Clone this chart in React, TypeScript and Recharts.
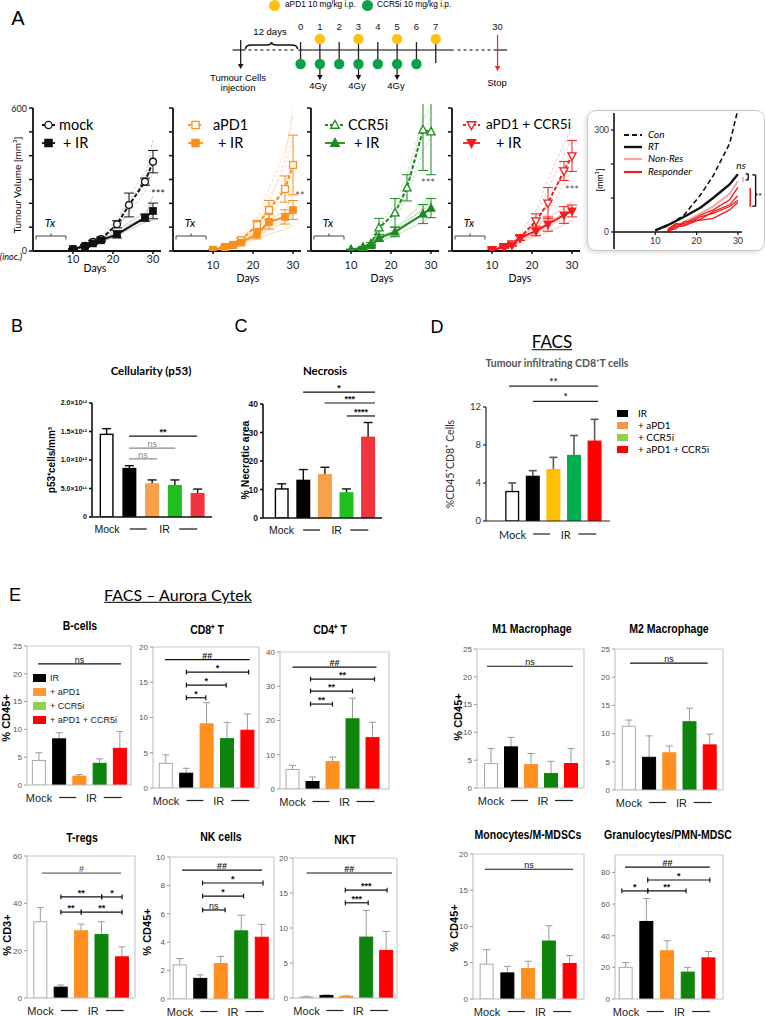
import React from 'react';
import { LineChart, Line, BarChart, Bar, XAxis, YAxis, ReferenceLine, ScatterChart, Scatter, ErrorBar } from 'recharts';

const ARIAL = '"Liberation Sans", Arial, Helvetica, sans-serif';
const CAL = 'Lato, "Open Sans", sans-serif';

// ===== Panel A: treatment schedule =====
const scheduleDays = [0, 1, 2, 3, 4, 5, 6, 7];
const aPD1Doses = [1, 3, 5, 7];
const ccr5iDoses = [0, 1, 2, 3, 4, 5, 6];
const irDoses = [1, 3, 5];
const injectionPos = -3.1;
const stopPos = 10.2;
const stopDayLabel = '30';

// ===== Panel A: tumour growth (mean ± SEM) =====
const growthDays = [10, 13, 15, 17, 21, 24, 28, 30];
const growthDaysIR = [10, 13, 15, 17, 21, 28, 30];
const mockMean = [8, 22, 39, 50, 112, 193, 291, 375];
const mockErr = [3, 5, 6, 8, 15, 50, 15, 47];
const mockIRMean = [8, 20, 32, 45, 70, 140, 168];
const mockIRErr = [3, 4, 5, 6, 15, 15, 33];
const aPD1Mean = [5, 15, 25, 45, 109, 172, 260, 361];
const aPD1Err = [2, 4, 6, 10, 20, 40, 55, 125];
const aPD1IRMean = [5, 18, 25, 35, 71, 122, 143, 172];
const aPD1IRErr = [2, 4, 5, 8, 20, 30, 30, 40];
const ccr5iMean = [5, 15, 30, 97, 160, 265, 508, 500];
const ccr5iErr = [2, 4, 6, 40, 60, 55, 170, 180];
const ccr5iIRMean = [5, 15, 22, 55, 80, 155, 180];
const ccr5iIRErr = [2, 4, 6, 15, 20, 40, 40];
const comboMean = [5, 18, 30, 55, 126, 201, 336, 399];
const comboErr = [2, 4, 6, 10, 30, 65, 40, 65];
const comboIRMean = [5, 15, 25, 55, 84, 113, 151, 168];
const comboIRErr = [2, 4, 5, 10, 20, 30, 35, 25];

// individual mice (faint traces), days = growthDays
const mockIndiv = [[8, 20, 38, 55, 120, 230, 330, 420], [6, 22, 40, 48, 100, 170, 300, 360], [10, 25, 45, 60, 135, 210, 300, 470], [7, 18, 35, 45, 95, 160, 250, 330]];
const mockIRIndiv = [[6, 18, 30, 40, 60, 100, 130, 150], [8, 22, 35, 50, 80, 120, 160, 200], [5, 15, 28, 42, 70, 110, 140, 230], [7, 20, 32, 45, 65, 90, 120, 130]];
const aPD1Indiv = [[5, 15, 30, 60, 140, 260, 420, 560], [5, 12, 25, 45, 110, 180, 280, 380], [4, 15, 22, 40, 90, 150, 230, 300], [6, 18, 28, 50, 120, 220, 350, 480], [5, 14, 26, 48, 100, 200, 380, 600]];
const aPD1IRIndiv = [[5, 15, 20, 35, 60, 90, 120, 140], [4, 12, 25, 40, 70, 110, 150, 190], [6, 18, 28, 45, 80, 130, 170, 230], [5, 10, 18, 30, 50, 70, 90, 110], [5, 14, 22, 38, 65, 100, 135, 160]];
const ccr5iIndiv = [[5, 15, 30, 100, 200, 320, 560, 600], [4, 12, 28, 80, 150, 250, 500, 560], [6, 18, 35, 120, 130, 230, 420, 480], [5, 14, 25, 90, 160, 280, 550, 590]];
const ccr5iIRIndiv = [[5, 14, 22, 50, 75, 120, 180, 230], [4, 12, 20, 45, 70, 110, 150, 175], [6, 16, 25, 60, 90, 140, 200, 240], [5, 10, 18, 40, 60, 90, 120, 140], [5, 12, 20, 48, 80, 130, 170, 210]];
const comboIndiv = [[5, 15, 30, 60, 150, 260, 400, 480], [4, 12, 25, 50, 120, 200, 330, 420], [6, 18, 35, 70, 170, 300, 450, 520], [5, 14, 28, 55, 100, 160, 280, 340]];
const comboIRIndiv = [[5, 14, 25, 50, 85, 120, 160, 200], [4, 12, 20, 45, 70, 100, 140, 170], [6, 16, 30, 60, 100, 140, 180, 210], [5, 10, 18, 40, 60, 80, 110, 130], [5, 12, 22, 50, 75, 110, 150, 185]];

// ===== Panel A inset =====
const insetDays = [10, 13, 17, 21, 24, 28, 30];
const insetCon = [5, 18, 50, 110, 165, 260, 360];
const insetRT = [5, 20, 45, 72, 100, 140, 170];
const insetRespDays = [13, 15, 17, 21, 24, 28, 30];
const insetNonRes = [8, 20, 30, 55, 75, 112, 150];
const insetResp = [[5, 20, 25, 50, 65, 95, 131], [2, 15, 18, 38, 60, 80, 107], [8, 25, 20, 45, 55, 75, 93], [3, 10, 30, 35, 40, 65, 87]];

// ===== Panel B/C/D =====
const p53Mean = [1.45, 0.85, 0.58, 0.55, 0.41]; // ×10^12 cells/mm3
const p53Err = [0.1, 0.05, 0.07, 0.1, 0.08];
const necMean = [10.2, 13.2, 15.2, 8.8, 28.3];
const necErr = [1.8, 3.8, 2.6, 1.4, 5.2];
const cd8FacsMean = [3.1, 4.7, 5.4, 6.9, 8.4];
const cd8FacsErr = [0.9, 0.6, 1.3, 2.1, 2.3];

// ===== Panel E =====
const bcellMean = [4.4, 8.3, 1.6, 3.9, 6.6];
const bcellErr = [1.4, 1.1, 0.3, 0.8, 3.0];
const cd8Mean = [3.5, 2.1, 9.1, 7.0, 8.2];
const cd8Err = [1.2, 0.7, 3.0, 2.3, 2.3];
const cd4Mean = [5.7, 2.2, 8.0, 20.5, 15.0];
const cd4Err = [1.2, 1.3, 1.3, 6.0, 4.5];
const m1Mean = [4.4, 7.4, 4.2, 2.6, 4.4];
const m1Err = [2.7, 1.7, 2.0, 2.2, 2.7];
const m2Mean = [11.3, 5.8, 6.6, 12.1, 8.0];
const m2Err = [1.1, 3.8, 1.2, 2.4, 1.9];
const tregMean = [32.2, 4.6, 28.4, 26.8, 17.4];
const tregErr = [6.0, 0.9, 2.8, 5.4, 4.2];
const nkMean = [2.4, 1.45, 2.5, 4.8, 4.35];
const nkErr = [0.45, 0.25, 0.5, 1.1, 0.9];
const nktMean = [0.15, 0.35, 0.25, 8.7, 6.8];
const nktErr = [0.1, 0.1, 0.05, 3.8, 2.7];
const monoMean = [4.8, 3.6, 4.2, 8.0, 4.9];
const monoErr = [2.0, 0.9, 1.0, 2.1, 1.1];
const granMean = [20, 49, 30.5, 17, 26];
const granErr = [3, 14.5, 6.3, 3, 4];

const E_FILLS = ['#ffffff', '#000000', '#FF8F1F', '#0E840E', '#FF0000'];
const E_STROKES = ['#aaaaaa', '#000000', '#FF8F1F', '#0E840E', '#FF0000'];
const BC_FILLS = ['#ffffff', '#000000', '#F9A04A', '#1FBF1F', '#F2343F'];
const BC_STROKES = ['#000000', '#000000', '#F9A04A', '#1FBF1F', '#F2343F'];
const D_FILLS = ['#ffffff', '#000000', '#FFC000', '#00B050', '#FF0000'];
const D_STROKES = ['#000000', '#000000', '#FFC000', '#00B050', '#FF0000'];
const D_LEGEND_COLORS = ['#000000', '#F79646', '#92D050', '#FF0000'];
const LEGEND_COLORS = ['#000000', '#FF9933', '#92D050', '#FF0000'];
const LEGEND_LABELS = ['IR', '+ aPD1', '+ CCR5i', '+ aPD1 + CCR5i'];

// ---------- helpers ----------
function pts(xs: number[], ys: number[], es?: number[]) {
  return xs.map((x, i) => ({ x, y: ys[i], e: es ? es[i] : 0 }));
}

function Txt(props: any) {
  const { x, y, children, size = 10, weight = 400, italic = false, color = '#000', family = ARIAL, anchor = 'middle', rotate = 0, underline = false, sx = 1 } = props;
  const tx = anchor === 'middle' ? '-50%' : anchor === 'end' ? '-100%' : '0';
  const origin = anchor === 'start' ? 'left center' : anchor === 'end' ? 'right center' : 'center center';
  return (
    <div style={{ position: 'absolute', left: x, top: y, transformOrigin: rotate ? 'center center' : origin, transform: `translate(${tx}, -50%)${rotate ? ` rotate(${rotate}deg)` : ''}${sx !== 1 ? ` scaleX(${sx})` : ''}`, fontSize: size, fontWeight: weight, fontStyle: italic ? 'italic' : 'normal', color, fontFamily: family, whiteSpace: 'nowrap', lineHeight: 1.15, textDecoration: underline ? 'underline' : 'none' }}>
      {children}
    </div>
  );
}

function makeDot(shape: string, open: boolean, color: string, r: number) {
  return (props: any) => {
    const { cx, cy, index } = props;
    if (cx == null || cy == null) return <g key={index} />;
    const fill = open ? '#fff' : color;
    const sw = 1.3;
    if (shape === 'circle') return <circle key={index} cx={cx} cy={cy} r={r} fill={fill} stroke={color} strokeWidth={sw} />;
    if (shape === 'square') return <rect key={index} x={cx - r} y={cy - r} width={2 * r} height={2 * r} fill={fill} stroke={color} strokeWidth={sw} />;
    if (shape === 'up') return <polygon key={index} points={`${cx},${cy - r * 1.3} ${cx - r * 1.2},${cy + r * 0.9} ${cx + r * 1.2},${cy + r * 0.9}`} fill={fill} stroke={color} strokeWidth={sw} />;
    return <polygon key={index} points={`${cx},${cy + r * 1.3} ${cx - r * 1.2},${cy - r * 0.9} ${cx + r * 1.2},${cy - r * 0.9}`} fill={fill} stroke={color} strokeWidth={sw} />;
  };
}

function LegendMark(props: any) {
  const { x, y, w, color, dashed, shape, open } = props;
  return (
    <svg style={{ position: 'absolute', left: x, top: y - 7 }} width={w} height={14}>
      <line x1={0} x2={w} y1={7} y2={7} stroke={color} strokeWidth={1.8} strokeDasharray={dashed ? '3 2' : undefined} />
      {makeDot(shape, open, color, 3.6)({ cx: w / 2, cy: 7, index: 0 })}
    </svg>
  );
}

// ---------- Schedule (panel A top) ----------
const arrowShape = (color: string, sw = 1.2) => (p: any) => {
  const { x1, y1, x2, y2 } = p;
  const ah = 5;
  const aw = 2.8;
  return (
    <g>
      <line x1={x1} y1={y1} x2={x2} y2={y2 - ah + 1} stroke={color} strokeWidth={sw} />
      <polygon points={`${x2},${y2} ${x2 - aw},${y2 - ah} ${x2 + aw},${y2 - ah}`} fill={color} />
    </g>
  );
};

const braceShape = (p: any) => {
  const { x1, y1, x2 } = p;
  const c = (x1 + x2) / 2;
  const y = y1;
  return (
    <path d={`M${x1},${y + 3} Q${x1},${y - 1} ${x1 + 6},${y - 1} L${c - 5},${y - 1} Q${c},${y - 1} ${c},${y - 4} Q${c},${y - 1} ${c + 5},${y - 1} L${x2 - 6},${y - 1} Q${x2},${y - 1} ${x2},${y + 3}`} fill="none" stroke="#111" strokeWidth={1.6} />
  );
};

function Schedule() {
  const x0 = 203.5;
  const x1 = 512.5;
  const tickData = scheduleDays.map((d) => ({ x: d, y: 50, label: String(d), long: d === 7 }));
  const stopData = [{ x: stopPos, y: 50, label: stopDayLabel }];
  const yellow = aPD1Doses.map((d) => ({ x: d, y: 39 }));
  const green = ccr5iDoses.map((d) => ({ x: d, y: 64 }));
  const tickShape = (p: any) => {
    const { cx, cy, payload } = p;
    return (
      <g>
        <line x1={cx} x2={cx} y1={cy - 8} y2={cy + (payload.long ? 13 : 9)} stroke="#222" strokeWidth={1.3} />
        <text x={cx} y={cy - 20} textAnchor="middle" fontSize={9.5} fontFamily={ARIAL} fill="#111">{payload.label}</text>
      </g>
    );
  };
  const labelOnly = (p: any) => {
    const { cx, cy, payload } = p;
    return <text x={cx} y={cy - 20} textAnchor="middle" fontSize={9.5} fontFamily={ARIAL} fill="#111">{payload.label}</text>;
  };
  const circ = (color: string) => (p: any) => <circle cx={p.cx} cy={p.cy} r={5.2} fill={color} />;
  return (
    <div style={{ position: 'absolute', left: x0, top: 0 }}>
      <ScatterChart width={x1 - x0} height={100} margin={{ top: 0, right: 0, left: 0, bottom: 0 }}>
        <XAxis type="number" dataKey="x" domain={[-5, 11]} hide allowDataOverflow />
        <YAxis type="number" dataKey="y" domain={[0, 100]} reversed hide allowDataOverflow />
        <ReferenceLine segment={[{ x: -3.52, y: 50 }, { x: -2.85, y: 50 }]} stroke="#555" strokeWidth={1.6} ifOverflow="visible" />
        <ReferenceLine segment={[{ x: -2.7, y: 50 }, { x: -0.26, y: 50 }]} stroke="#555" strokeWidth={1.6} strokeDasharray="3 3" ifOverflow="visible" />
        <ReferenceLine segment={[{ x: -0.12, y: 50 }, { x: 7.93, y: 50 }]} stroke="#555" strokeWidth={1.6} ifOverflow="visible" />
        <ReferenceLine segment={[{ x: 8.13, y: 50 }, { x: 10.0, y: 50 }]} stroke="#555" strokeWidth={1.6} strokeDasharray="3 3" ifOverflow="visible" />
        <ReferenceLine segment={[{ x: 10.0, y: 50 }, { x: 10.7, y: 50 }]} stroke="#555" strokeWidth={1.6} ifOverflow="visible" />
        <ReferenceLine segment={[{ x: -2.85, y: 46 }, { x: -0.16, y: 46 }]} shape={braceShape} ifOverflow="visible" />
        <ReferenceLine segment={[{ x: injectionPos, y: 40 }, { x: injectionPos, y: 69 }]} shape={arrowShape('#111')} ifOverflow="visible" />
        <ReferenceLine segment={[{ x: stopPos, y: 35 }, { x: stopPos, y: 71 }]} shape={arrowShape('#E8262B')} ifOverflow="visible" />
        {irDoses.map((d) => (
          <ReferenceLine key={`ir${d}`} segment={[{ x: d, y: 64 }, { x: d, y: 80 }]} shape={arrowShape('#111')} ifOverflow="visible" />
        ))}
        <Scatter data={tickData} shape={tickShape} isAnimationActive={false} />
        <Scatter data={stopData} shape={labelOnly} isAnimationActive={false} />
        <Scatter data={yellow} shape={circ('#FFC20E')} isAnimationActive={false} />
        <Scatter data={green} shape={circ('#0BA14B')} isAnimationActive={false} />
      </ScatterChart>
    </div>
  );
}

// ---------- Growth charts ----------
function GrowthChart(props: any) {
  const { ax, color, faint, openShape, filledShape, treat, ir, indivT, indivIR, showLabels, tickDy } = props;
  const x0 = ax;
  const x1 = ax + 128;
  const y0 = 108;
  const y1 = 251;
  const L = 30;
  const R = 4;
  const T = 4;
  const B = 24;
  return (
    <div style={{ position: 'absolute', left: x0 - L, top: y0 - T }}>
      <LineChart width={x1 - x0 + L + R} height={y1 - y0 + T + B} margin={{ top: T, right: R, left: 0, bottom: 0 }}>
        <XAxis type="number" dataKey="x" domain={[0, 32]} ticks={[10, 20, 30]} allowDataOverflow height={B} tickSize={3} tickMargin={1}
          axisLine={{ stroke: '#111', strokeWidth: 1.8 }} tickLine={{ stroke: '#111', strokeWidth: 1.5 }}
          tick={{ fontSize: 11, fill: '#222', fontFamily: CAL, dy: tickDy }} />
        <YAxis type="number" domain={[0, 600]} ticks={[0, 100, 200, 300, 400, 500, 600]} width={L} allowDataOverflow tickSize={4} tickMargin={2}
          axisLine={{ stroke: '#111', strokeWidth: 1.8 }} tickLine={{ stroke: '#111', strokeWidth: 1.5 }}
          tickFormatter={(v: number) => (showLabels && (v === 0 || v === 600) ? String(v) : '')}
          tick={{ fontSize: 9, fill: '#222', fontFamily: CAL }} />
        {indivT.map((arr: number[], k: number) => (
          <Line key={`t${k}`} data={pts(growthDays, arr)} dataKey="y" stroke={faint} strokeWidth={0.8} strokeDasharray="3 2" dot={false} isAnimationActive={false} />
        ))}
        {indivIR.map((arr: number[], k: number) => (
          <Line key={`i${k}`} data={pts(growthDays, arr)} dataKey="y" stroke={faint} strokeWidth={0.9} dot={false} isAnimationActive={false} />
        ))}
        <Line data={treat} dataKey="y" stroke={color} strokeWidth={2} strokeDasharray="4 2" dot={makeDot(openShape, true, color, 3.4)} isAnimationActive={false}>
          <ErrorBar dataKey="e" width={5} stroke={color} strokeWidth={1} direction="y" />
        </Line>
        <Line data={ir} dataKey="y" stroke={color} strokeWidth={2} dot={makeDot(filledShape, false, color, 3.2)} isAnimationActive={false}>
          <ErrorBar dataKey="e" width={5} stroke={color} strokeWidth={1} direction="y" />
        </Line>
        <ReferenceLine segment={[{ x: 0.75, y: 63 }, { x: 8.25, y: 63 }]} stroke="#333" strokeWidth={0.9} ifOverflow="visible" />
        <ReferenceLine segment={[{ x: 0.75, y: 63 }, { x: 0.75, y: 48 }]} stroke="#333" strokeWidth={0.9} ifOverflow="visible" />
        <ReferenceLine segment={[{ x: 8.25, y: 63 }, { x: 8.25, y: 48 }]} stroke="#333" strokeWidth={0.9} ifOverflow="visible" />
        <ReferenceLine segment={[{ x: 4.5, y: 63 }, { x: 4.5, y: 74 }]} stroke="#333" strokeWidth={0.9} ifOverflow="visible" />
      </LineChart>
    </div>
  );
}

function Inset() {
  const x0 = 614;
  const x1 = 742;
  const y0 = 113;
  const y1 = 232;
  const L = 24;
  const R = 23;
  const T = 4;
  const B = 20;
  const blk = '#111';
  return (
    <div style={{ position: 'absolute', left: x0 - L, top: y0 - T }}>
      <LineChart width={x1 - x0 + L + R} height={y1 - y0 + T + B} margin={{ top: T, right: R, left: 0, bottom: 0 }}>
        <XAxis type="number" dataKey="x" domain={[0, 31]} ticks={[10, 20, 30]} allowDataOverflow height={B} tickSize={3} tickMargin={3}
          axisLine={{ stroke: blk, strokeWidth: 1.6 }} tickLine={{ stroke: blk, strokeWidth: 1.2 }}
          tick={{ fontSize: 9, fill: '#333', fontFamily: CAL }} />
        <YAxis type="number" domain={[0, 350]} ticks={[0, 100, 200, 300]} width={L} allowDataOverflow tickSize={3} tickMargin={2}
          axisLine={{ stroke: blk, strokeWidth: 1.6 }} tickLine={{ stroke: blk, strokeWidth: 1.2 }}
          tickFormatter={(v: number) => (v === 0 || v === 300 ? String(v) : '')}
          tick={{ fontSize: 8.5, fill: '#333', fontFamily: CAL }} />
        <ReferenceLine segment={[{ x: 0, y: 0 }, { x: 0, y: -50 }]} stroke={blk} strokeWidth={1.6} ifOverflow="visible" />
        <Line data={pts(insetDays, insetCon)} dataKey="y" stroke={blk} strokeWidth={1.6} strokeDasharray="5 3" dot={false} isAnimationActive={false} />
        <Line data={pts(insetRespDays, insetNonRes)} dataKey="y" stroke="#F6A5A5" strokeWidth={2} dot={false} isAnimationActive={false} />
        {insetResp.map((arr, k) => (
          <Line key={`r${k}`} data={pts(insetRespDays, arr)} dataKey="y" stroke="#EE1C1C" strokeWidth={1.3} dot={false} isAnimationActive={false} />
        ))}
        <Line data={pts(insetDays, insetRT)} dataKey="y" stroke={blk} strokeWidth={2.4} dot={false} isAnimationActive={false} />
        <ReferenceLine segment={[{ x: 31.25, y: 162 }, { x: 31.25, y: 147 }]} stroke="#F6A5A5" strokeWidth={1.6} ifOverflow="visible" />
        <ReferenceLine segment={[{ x: 32.5, y: 171 }, { x: 32.5, y: 153 }]} stroke={blk} strokeWidth={1.4} ifOverflow="visible" />
        <ReferenceLine segment={[{ x: 31.9, y: 171 }, { x: 32.5, y: 171 }]} stroke={blk} strokeWidth={1.4} ifOverflow="visible" />
        <ReferenceLine segment={[{ x: 31.9, y: 153 }, { x: 32.5, y: 153 }]} stroke={blk} strokeWidth={1.4} ifOverflow="visible" />
        <ReferenceLine segment={[{ x: 34.3, y: 168 }, { x: 34.3, y: 76 }]} stroke={blk} strokeWidth={1.4} ifOverflow="visible" />
        <ReferenceLine segment={[{ x: 33.5, y: 168 }, { x: 34.3, y: 168 }]} stroke={blk} strokeWidth={1.4} ifOverflow="visible" />
        <ReferenceLine segment={[{ x: 33.5, y: 76 }, { x: 34.3, y: 76 }]} stroke={blk} strokeWidth={1.4} ifOverflow="visible" />
        <ReferenceLine segment={[{ x: 33.0, y: 129 }, { x: 33.0, y: 74 }]} stroke="#EE1C1C" strokeWidth={1.6} ifOverflow="visible" />
      </LineChart>
    </div>
  );
}

// ---------- Bar panels ----------
type Sig = { a: number; b: number; y: number; label: string; cap?: boolean; color?: string };

function makeBarShape(fills: string[], strokes: string[], errColor: string, errW: number, errSW: number, barSW: number) {
  return (props: any) => {
    const { x, y, width, height, payload, index } = props;
    const i = payload && payload.x != null ? payload.x : index;
    const ppu = payload.y > 0 ? height / payload.y : 0;
    const top = y - payload.err * ppu;
    const cx = x + width / 2;
    return (
      <g>
        <line x1={cx} x2={cx} y1={y} y2={top} stroke={errColor} strokeWidth={errSW} />
        <line x1={cx - errW / 2} x2={cx + errW / 2} y1={top} y2={top} stroke={errColor} strokeWidth={errSW} />
        <rect x={x + barSW / 2} y={y} width={Math.max(0, width - barSW)} height={Math.max(0, height)} fill={fills[i]} stroke={strokes[i]} strokeWidth={barSW} />
      </g>
    );
  };
}

function makeXTick(font: string, size: number, color: string, dy: number) {
  return (props: any) => {
    const { x, y, payload } = props;
    const v = payload.value;
    const ty = y + dy;
    if (v === 0) return <text x={x} y={ty} textAnchor="middle" dominantBaseline="central" fontSize={size} fontFamily={font} fill={color}>Mock</text>;
    if (v === 1) return <line x1={x} x2={x + 17} y1={ty} y2={ty} stroke={color} strokeWidth={1.2} />;
    if (v === 2) return <text x={x + 12} y={ty} textAnchor="middle" dominantBaseline="central" fontSize={size} fontFamily={font} fill={color}>IR</text>;
    if (v === 3) return <line x1={x + 4} x2={x + 22} y1={ty} y2={ty} stroke={color} strokeWidth={1.2} />;
    return <g />;
  };
}

function sigLines(sigs: Sig[], capH: number, fs: number, font: string) {
  const out: any[] = [];
  sigs.forEach((sg, k) => {
    const col = sg.color || '#111';
    out.push(
      <ReferenceLine key={`m${k}`} segment={[{ x: sg.a, y: sg.y }, { x: sg.b, y: sg.y }]} stroke={col} strokeWidth={1.2} ifOverflow="visible"
        label={{ value: sg.label, position: 'top', offset: 1, fontSize: fs, fill: col, fontFamily: font, fontWeight: sg.label === 'ns' ? 400 : 700 }} />
    );
    if (sg.cap) {
      [sg.a, sg.b].forEach((xx, j) => {
        out.push(<ReferenceLine key={`c${k}_${j}`} segment={[{ x: xx, y: sg.y - capH }, { x: xx, y: sg.y + capH }]} stroke={col} strokeWidth={1.2} ifOverflow="visible" />);
      });
    }
  });
  return out;
}

function BarPanel(props: any) {
  const { x0, x1, y0, y1, c0, s, yMax, yTicks, mean, err, sigs, kind, tickFmt, T = 8 } = props;
  const L = 40;
  const R = 8;
  const B = 24;
  const data = mean.map((m: number, i: number) => ({ x: i, y: m, err: err[i] }));
  const dom = [(x0 - c0) / s, (x1 - c0) / s];
  const ppu = (y1 - y0) / yMax;
  const capH = 2.4 / ppu;
  let fills = E_FILLS;
  let strokes = E_STROKES;
  let errColor = '#9a9a9a';
  let axisStroke = '#bbbbbb';
  let axisW = 1;
  let tickStyle: any = { fontSize: 8, fill: '#555', fontFamily: ARIAL };
  let xTick = makeXTick(ARIAL, 11, '#222', 12.5);
  let barSW = 1;
  let errW = 7;
  let errSW = 1;
  let sigFont = ARIAL;
  let sigFs = 9;
  if (kind === 'B') {
    fills = BC_FILLS; strokes = BC_STROKES; errColor = '#111'; axisStroke = '#111'; axisW = 1.6; barSW = 1.4; errSW = 1.4; errW = 9;
    tickStyle = { fontSize: 7, fill: '#111', fontFamily: ARIAL, fontWeight: 700 };
    xTick = makeXTick(ARIAL, 10.5, '#111', 12);
  } else if (kind === 'C') {
    fills = BC_FILLS; strokes = BC_STROKES; errColor = '#111'; axisStroke = '#111'; axisW = 1.6; barSW = 1.4; errSW = 1.4; errW = 9;
    tickStyle = { fontSize: 8.5, fill: '#111', fontFamily: ARIAL, fontWeight: 700 };
    xTick = makeXTick(ARIAL, 10.5, '#111', 12);
  } else if (kind === 'D') {
    fills = D_FILLS; strokes = D_STROKES; errColor = '#595959'; axisStroke = '#222'; axisW = 1.2; barSW = 1.3; errSW = 1.6; errW = 8;
    tickStyle = { fontSize: 9.5, fill: '#333', fontFamily: CAL };
    xTick = makeXTick(CAL, 11, '#222', 13);
    sigFont = CAL; sigFs = 10;
  }
  const isE = kind === 'E';
  return (
    <div style={{ position: 'absolute', left: x0 - L, top: y0 - T }}>
      <BarChart width={x1 - x0 + L + R} height={y1 - y0 + T + B} data={data} margin={{ top: T, right: R, left: 0, bottom: 0 }}>
        <XAxis type="number" dataKey="x" domain={dom} ticks={[0, 1, 2, 3]} allowDataOverflow height={B} tickSize={0} tickMargin={0} tickLine={false}
          axisLine={{ stroke: axisStroke, strokeWidth: axisW }} tick={xTick} interval={0} />
        <YAxis type="number" domain={[0, yMax]} ticks={yTicks} width={L} allowDataOverflow tickSize={3} tickMargin={2}
          axisLine={{ stroke: axisStroke, strokeWidth: axisW }} tickLine={{ stroke: isE ? '#999' : axisStroke, strokeWidth: axisW }}
          tick={tickStyle} tickFormatter={tickFmt} interval={0} />
        {isE && <ReferenceLine y={yMax} stroke="#cccccc" strokeWidth={1.2} ifOverflow="visible" />}
        {isE && <ReferenceLine x={dom[1]} stroke="#cccccc" strokeWidth={1.2} ifOverflow="visible" />}
        <Bar dataKey="y" barSize={14} isAnimationActive={false} shape={makeBarShape(fills, strokes, errColor, errW, errSW, barSW)} />
        {sigLines(sigs, capH, sigFs, sigFont)}
      </BarChart>
    </div>
  );
}

const p53Fmt = (v: number) => (v === 0 ? '0' : v === 0.5 ? '5.0×10¹¹' : `${v.toFixed(1)}×10¹²`);

const ePanels = [
  { title: 'B-cells', tx: 80, ty: 626, x0: 27, x1: 131, y0: 646, y1: 785, c0: 39, s: 20.25, yMax: 25, yTicks: [0, 5, 10, 15, 20, 25], mean: bcellMean, err: bcellErr,
    sigs: [{ a: -0.05, b: 4.05, y: 21.8, label: 'ns' }] },
  { title: 'CD8⁺ T', tx: 207, ty: 630, x0: 153, x1: 259, y0: 647, y1: 788, c0: 166, s: 20.4, yMax: 20, yTicks: [0, 5, 10, 15, 20], mean: cd8Mean, err: cd8Err,
    sigs: [{ a: -0.05, b: 4.1, y: 18.2, label: '##' }, { a: 1, b: 4.05, y: 16.45, label: '*', cap: true }, { a: 1, b: 2.95, y: 14.6, label: '*', cap: true }, { a: 1, b: 1.95, y: 12.8, label: '*', cap: true }] },
  { title: 'CD4⁺ T', tx: 330, ty: 630, x0: 280, x1: 389, y0: 652, y1: 789, c0: 292.5, s: 20, yMax: 40, yTicks: [0, 10, 20, 30, 40], mean: cd4Mean, err: cd4Err,
    sigs: [{ a: 0, b: 4.2, y: 35.6, label: '##' }, { a: 0.9, b: 4.1, y: 32.1, label: '**', cap: true }, { a: 0.9, b: 3.0, y: 28.6, label: '**', cap: true }, { a: 0.9, b: 2.0, y: 24.8, label: '**', cap: true }] },
  { title: 'M1 Macrophage', tx: 532, ty: 629, x0: 477, x1: 584, y0: 649, y1: 788, c0: 491, s: 20, yMax: 25, yTicks: [0, 5, 10, 15, 20, 25], mean: m1Mean, err: m1Err,
    sigs: [{ a: -0.2, b: 4.1, y: 21.9, label: 'ns' }] },
  { title: 'M2 Macrophage', tx: 669, ty: 629, x0: 615, x1: 723, y0: 649, y1: 790, c0: 629, s: 20.2, yMax: 25, yTicks: [0, 5, 10, 15, 20, 25], mean: m2Mean, err: m2Err,
    sigs: [{ a: 0.05, b: 3.9, y: 22.5, label: 'ns' }] },
  { title: 'T-regs', tx: 82, ty: 838, x0: 27, x1: 135, y0: 856, y1: 998, c0: 40.5, s: 20.4, yMax: 60, yTicks: [0, 20, 40, 60], mean: tregMean, err: tregErr,
    sigs: [{ a: 0.07, b: 3.95, y: 52.8, label: '#', color: '#666' }, { a: 1, b: 3, y: 42.7, label: '**', cap: true }, { a: 3, b: 4, y: 42.7, label: '*', cap: true }, { a: 1, b: 2, y: 36.3, label: '**', cap: true }, { a: 2, b: 4, y: 36.3, label: '**', cap: true }] },
  { title: 'NK cells', tx: 221, ty: 837, x0: 170, x1: 274, y0: 857, y1: 999, c0: 180, s: 20.5, yMax: 10, yTicks: [0, 2, 4, 6, 8, 10], mean: nkMean, err: nkErr,
    sigs: [{ a: 0.1, b: 4.0, y: 9.08, label: '##' }, { a: 1.1, b: 4.05, y: 8.17, label: '*', cap: true }, { a: 1.1, b: 3.1, y: 7.25, label: '*', cap: true }, { a: 1.1, b: 2.2, y: 6.27, label: 'ns', cap: true }] },
  { title: 'NKT', tx: 345, ty: 840, x0: 293, x1: 397, y0: 858, y1: 998, c0: 306.5, s: 19.9, yMax: 20, yTicks: [0, 5, 10, 15, 20], mean: nktMean, err: nktErr,
    sigs: [{ a: 0, b: 4.3, y: 17.86, label: '##' }, { a: 1.95, b: 4.05, y: 15.4, label: '***', cap: true }, { a: 1.95, b: 3.1, y: 13.6, label: '***', cap: true }] },
  { title: 'Monocytes/M-MDSCs', tx: 528, ty: 835, x0: 473, x1: 584, y0: 854, y1: 999, c0: 487, s: 20.75, yMax: 20, yTicks: [0, 5, 10, 15, 20], mean: monoMean, err: monoErr,
    sigs: [{ a: -0.1, b: 4.15, y: 17.9, label: 'ns' }] },
  { title: 'Granulocytes/PMN-MDSC', tx: 668, ty: 835, x0: 615, x1: 723, y0: 855, y1: 999, c0: 626, s: 20.7, yMax: 91, yTicks: [0, 20, 40, 60, 80], mean: granMean, err: granErr,
    sigs: [{ a: -0.05, b: 4.05, y: 83.4, label: '##' }, { a: 1.05, b: 4.05, y: 75.2, label: '*', cap: true }, { a: -0.2, b: 1.05, y: 68.3, label: '*', cap: true }, { a: 1.05, b: 2.9, y: 68.3, label: '**', cap: true }] },
];

const eYLabels = [
  { x: 6, y: 718, text: '% CD45+' },
  { x: 458, y: 717, text: '% CD45+' },
  { x: 7, y: 935, text: '% CD3+' },
  { x: 147, y: 932, text: '% CD45+' },
  { x: 454, y: 928, text: '% CD45+' },
];

const growthPanels = [
  { ax: 33, color: '#111111', faint: '#c4c4c4', openShape: 'circle', filledShape: 'square', treat: pts(growthDays, mockMean, mockErr), ir: pts(growthDaysIR, mockIRMean, mockIRErr), indivT: mockIndiv, indivIR: mockIRIndiv, showLabels: true, tickDy: 0,
    name: 'mock', markX: 42, markW: 13, nameX: 59, irX: 63, star: '***', starX: 158, starY: 194, daysX: 95, daysY: 268 },
  { ax: 173, color: '#F7901E', faint: '#FAD2AE', openShape: 'square', filledShape: 'square', treat: pts(growthDays, aPD1Mean, aPD1Err), ir: pts(growthDays, aPD1IRMean, aPD1IRErr), indivT: aPD1Indiv, indivIR: aPD1IRIndiv, showLabels: false, tickDy: 6,
    name: 'aPD1', markX: 188, markW: 15, nameX: 213, irX: 218, star: '**', starX: 300, starY: 196, daysX: 248, daysY: 278 },
  { ax: 311, color: '#1F8A1F', faint: '#B5D9B5', openShape: 'up', filledShape: 'up', treat: pts(growthDays, ccr5iMean, ccr5iErr), ir: pts(growthDaysIR, ccr5iIRMean, ccr5iIRErr), indivT: ccr5iIndiv, indivIR: ccr5iIRIndiv, showLabels: false, tickDy: 6,
    name: 'CCR5i', markX: 325, markW: 20, nameX: 348, irX: 354, star: '***', starX: 428, starY: 183, daysX: 382, daysY: 278 },
  { ax: 452, color: '#F21C1C', faint: '#F8B8B8', openShape: 'down', filledShape: 'down', treat: pts(growthDays, comboMean, comboErr), ir: pts(growthDays, comboIRMean, comboIRErr), indivT: comboIndiv, indivIR: comboIRIndiv, showLabels: false, tickDy: 6,
    name: 'aPD1 + CCR5i', markX: 463, markW: 17, nameX: 486, irX: 496, star: '***', starX: 572, starY: 190, daysX: 520, daysY: 278 },
];

export default function App() {
  return (
    <div style={{ position: 'absolute', left: 0, top: 0, width: 765, height: 1016, background: '#fff', overflow: 'hidden', fontFamily: ARIAL }}>
      {/* Panel letters */}
      <Txt x={18} y={18} size={20}>A</Txt>
      <Txt x={17} y={326} size={18}>B</Txt>
      <Txt x={241} y={326} size={18}>C</Txt>
      <Txt x={437} y={327} size={18}>D</Txt>
      <Txt x={15} y={595} size={18}>E</Txt>

      {/* Schedule */}
      <div style={{ position: 'absolute', left: 268.5, top: -0.5, width: 11, height: 11, borderRadius: 6, background: '#FFC20E' }} />
      <Txt x={285} y={5} size={8.3} anchor="start">aPD1 10 mg/kg i.p.</Txt>
      <div style={{ position: 'absolute', left: 361.5, top: -0.5, width: 11, height: 11, borderRadius: 6, background: '#0BA14B' }} />
      <Txt x={377} y={5} size={8.3} anchor="start">CCR5i 10 mg/kg i.p.</Txt>
      <Txt x={270} y={32} size={9.5}>12 days</Txt>
      <Schedule />
      <Txt x={238} y={78} size={9.5}>Tumour Cells</Txt>
      <Txt x={238} y={88} size={9.5}>injection</Txt>
      <Txt x={318} y={86} size={9.5}>4Gy</Txt>
      <Txt x={357} y={86} size={9.5}>4Gy</Txt>
      <Txt x={396} y={86} size={9.5}>4Gy</Txt>
      <Txt x={497} y={83} size={9.5}>Stop</Txt>

      {/* Growth curves */}
      <Txt x={18} y={185} size={10} family={CAL} rotate={-90}>Tumour Volume [mm³]</Txt>
      <Txt x={11} y={257} size={9} family={CAL} italic>(inoc.)</Txt>
      {growthPanels.map((g, k) => (
        <React.Fragment key={`g${k}`}>
          <GrowthChart {...g} />
          <LegendMark x={g.markX} y={125} w={g.markW} color={g.color} dashed shape={g.openShape} open />
          <LegendMark x={g.markX} y={143} w={g.markW} color={g.color} shape={g.filledShape} open={false} />
          <Txt x={g.nameX} y={125} size={k === 3 ? 13.5 : 14.5} family={CAL} anchor="start">{g.name}</Txt>
          <Txt x={g.irX} y={143} size={14.5} family={CAL} anchor="start">+ IR</Txt>
          <Txt x={g.starX} y={g.starY} size={11} family={CAL} color={k === 0 ? '#222' : '#555'}>{g.star}</Txt>
          <Txt x={g.daysX} y={g.daysY} size={10.5} family={CAL}>Days</Txt>
          <Txt x={g.ax + 17} y={223} size={11} family={CAL} italic>Tx</Txt>
        </React.Fragment>
      ))}

      {/* Inset */}
      <div style={{ position: 'absolute', left: 587, top: 110, width: 176, height: 139, border: '1.5px solid #c8c8c8', borderRadius: 9, boxShadow: '-2px 2px 4px rgba(0,0,0,0.12)' }} />
      <Inset />
      <Txt x={600} y={180} size={9} family={CAL} rotate={-90}>[mm³]</Txt>
      {[
        { y: 135, c: '#111', d: '5 3', w: 2, t: 'Con' },
        { y: 147, c: '#111', d: undefined, w: 2.4, t: 'RT' },
        { y: 159, c: '#F6A5A5', d: undefined, w: 2.2, t: 'Non-Res' },
        { y: 172, c: '#EE1C1C', d: undefined, w: 2.2, t: 'Responder' },
      ].map((l, k) => (
        <React.Fragment key={`il${k}`}>
          <svg style={{ position: 'absolute', left: 624, top: l.y - 3 }} width={18} height={6}>
            <line x1={0} x2={18} y1={3} y2={3} stroke={l.c} strokeWidth={l.w} strokeDasharray={l.d} />
          </svg>
          <Txt x={648} y={l.y} size={10} family={CAL} italic anchor="start">{l.t}</Txt>
        </React.Fragment>
      ))}
      <Txt x={741} y={166} size={10} family={CAL} italic>ns</Txt>
      <Txt x={758} y={197} size={9} family={CAL} italic>**</Txt>

      {/* Panel B */}
      <Txt x={151} y={371} size={11.5} weight={700} family={CAL}>Cellularity (p53)</Txt>
      <Txt x={52} y={460} size={10} weight={700} rotate={-90}>p53⁺cells/mm³</Txt>
      <BarPanel kind="B" x0={92} x1={212} y0={403} y1={517} c0={107} s={22.75} yMax={2} yTicks={[0, 0.5, 1, 1.5, 2]} tickFmt={p53Fmt}
        mean={p53Mean} err={p53Err}
        sigs={[{ a: 0.97, b: 3.96, y: 1.42, label: '**' }, { a: 0.97, b: 3.0, y: 1.21, label: 'ns', color: '#888' }, { a: 0.97, b: 2.2, y: 1.02, label: 'ns', color: '#888' }]} />

      {/* Panel C */}
      <Txt x={325} y={371} size={11.5} weight={700} family={CAL}>Necrosis</Txt>
      <Txt x={245} y={460} size={10.5} weight={700} rotate={-90}>% Necrotic area</Txt>
      <BarPanel kind="C" T={36} x0={263} x1={382} y0={404} y1={518} c0={281.5} s={21.6} yMax={40} yTicks={[0, 10, 20, 30, 40]}
        mean={necMean} err={necErr}
        sigs={[{ a: 1, b: 4.33, y: 44.2, label: '*' }, { a: 2, b: 4.33, y: 40.35, label: '***' }, { a: 3.03, b: 4.33, y: 35.8, label: '****' }]} />

      {/* Panel D */}
      <Txt x={552} y={342} size={17} family={CAL} underline>FACS</Txt>
      <Txt x={557} y={363} size={10.5} weight={700} family={CAL} color="#555">Tumour infiltrating  CD8⁺T cells</Txt>
      <Txt x={450} y={464} size={10.5} family={CAL} color="#333" rotate={-90}>%CD45⁺CD8⁺ Cells</Txt>
      <BarPanel kind="D" T={40} x0={486} x1={610} y0={407} y1={521} c0={512.5} s={20.6} yMax={12} yTicks={[0, 4, 8, 12]}
        mean={cd8FacsMean} err={cd8FacsErr}
        sigs={[{ a: -0.17, b: 4.15, y: 14.2, label: '**', color: '#222' }, { a: 1, b: 4.15, y: 12.6, label: '*', color: '#222' }]} />
      {LEGEND_LABELS.map((t, k) => (
        <React.Fragment key={`dl${k}`}>
          <div style={{ position: 'absolute', left: 617, top: 410 + k * 12, width: 11, height: 7, background: D_LEGEND_COLORS[k] }} />
          <Txt x={638} y={413.5 + k * 12} size={10} family={CAL} anchor="start">{t}</Txt>
        </React.Fragment>
      ))}

      {/* Panel E */}
      <Txt x={178} y={595} size={16} family={CAL} underline>FACS – Aurora Cytek</Txt>
      {ePanels.map((p, k) => (
        <React.Fragment key={`e${k}`}>
          <Txt x={p.tx} y={p.ty} size={12.5} weight={700} sx={0.84}>{p.title}</Txt>
          <BarPanel kind="E" T={10} {...p} />
        </React.Fragment>
      ))}
      {eYLabels.map((l, k) => (
        <Txt key={`ey${k}`} x={l.x} y={l.y} size={11} weight={700} rotate={-90}>{l.text}</Txt>
      ))}
      {LEGEND_LABELS.map((t, k) => (
        <React.Fragment key={`el${k}`}>
          <div style={{ position: 'absolute', left: 33, top: 674 + k * 14, width: 13, height: 8, background: LEGEND_COLORS[k] }} />
          <Txt x={50} y={678 + k * 14} size={9} anchor="start" color="#222">{t}</Txt>
        </React.Fragment>
      ))}
    </div>
  );
}
